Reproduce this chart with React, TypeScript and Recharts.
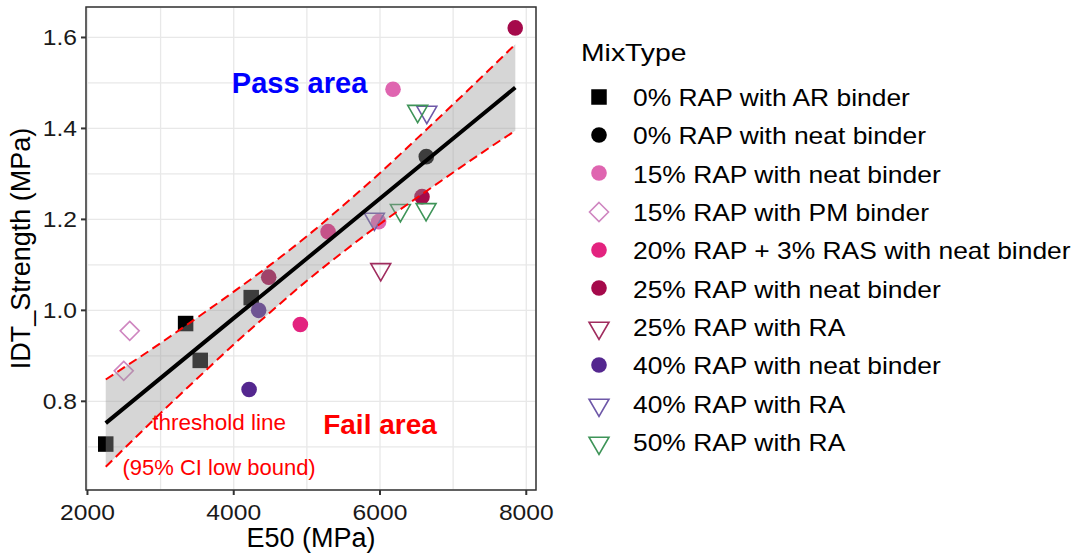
import React from "react";
import {
  ComposedChart,
  XAxis,
  YAxis,
  CartesianGrid,
  Scatter,
  Area,
  Line,
  ReferenceDot,
  ReferenceArea,
} from "recharts";

const FONT = "'Liberation Sans', Arial, Helvetica, sans-serif";

// axes
const xDomain: [number, number] = [1980, 8133];
const yDomain: [number, number] = [0.605, 1.667];
const xTicks = [2000, 3000, 4000, 5000, 6000, 7000, 8000];
const xLabelled = [2000, 4000, 6000, 8000];
const yTicks = [0.7, 0.8, 0.9, 1.0, 1.1, 1.2, 1.3, 1.4, 1.5, 1.6];
const yLabelled = [0.8, 1.0, 1.2, 1.4, 1.6];

// mix types (legend order)
const mixNames = [
  "0% RAP with AR binder",
  "0% RAP with neat binder",
  "15% RAP with neat binder",
  "15% RAP with PM binder",
  "20% RAP + 3% RAS with neat binder",
  "25% RAP with neat binder",
  "25% RAP with RA",
  "40% RAP with neat binder",
  "40% RAP with RA",
  "50% RAP with RA",
];
const mixE50 = [
  [2250, 3342, 3542, 4239],
  [6633],
  [6178, 5981],
  [2578, 2496],
  [4911, 5290],
  [7849, 6574, 4478],
  [6010],
  [4210, 4341],
  [6640, 5923],
  [6515, 6279, 6630],
];
const mixIDT = [
  [0.706, 0.971, 0.89, 1.028],
  [1.338],
  [1.486, 1.195],
  [0.955, 0.867],
  [0.969, 1.173],
  [1.621, 1.25, 1.073],
  [1.09],
  [0.826, 1.0],
  [1.436, 1.201],
  [1.438, 1.22, 1.222],
];
const mixColors = [
  "#000000",
  "#000000",
  "#df65b0",
  "#cf86c0",
  "#e3237f",
  "#a50a4b",
  "#a02c5e",
  "#54278f",
  "#6e58a8",
  "#3e9458",
];
const mixShapes = [
  "square",
  "circle",
  "circle",
  "diamond",
  "circle",
  "circle",
  "triangle",
  "circle",
  "triangle",
  "triangle",
];

// linear fit with 95% CI band
const bandX = [2250, 3000, 3500, 4000, 4500, 5000, 5500, 6000, 6500, 7000, 7500, 7850];
const bandFit = [0.752, 0.851, 0.917, 0.983, 1.048, 1.114, 1.18, 1.246, 1.312, 1.378, 1.444, 1.49];
const bandLow = [0.656, 0.774, 0.85, 0.925, 0.996, 1.065, 1.129, 1.19, 1.247, 1.303, 1.358, 1.395];
const bandHigh = [0.848, 0.928, 0.984, 1.041, 1.1, 1.163, 1.231, 1.302, 1.377, 1.453, 1.53, 1.585];

const bandRows = bandX.map((x, i) => ({
  x,
  fit: bandFit[i],
  lo: bandLow[i],
  hi: bandHigh[i],
  range: [bandLow[i], bandHigh[i]],
}));

const Marker = ({ kind, color, cx, cy }: { kind: string; color: string; cx: number; cy: number }) => {
  if (kind === "square") {
    return <rect x={cx - 7.75} y={cy - 7.75} width={15.5} height={15.5} fill={color} />;
  }
  if (kind === "circle") {
    return <circle cx={cx} cy={cy} r={7.8} fill={color} />;
  }
  if (kind === "diamond") {
    const r = 9.5;
    return (
      <polygon
        points={`${cx},${cy - r} ${cx + r},${cy} ${cx},${cy + r} ${cx - r},${cy}`}
        fill="none"
        stroke={color}
        strokeWidth={1.6}
      />
    );
  }
  // triangle pointing down, circumcentre on the point (like R pch 6)
  const r = 11.5;
  const hw = r * 0.866;
  return (
    <polygon
      points={`${cx - hw},${cy - r / 2} ${cx + hw},${cy - r / 2} ${cx},${cy + r}`}
      fill="none"
      stroke={color}
      strokeWidth={1.6}
    />
  );
};

const isIn = (list: number[], v: number) => list.some((t) => Math.abs(t - v) < 1e-9);

const XTick = (props: any) => {
  const { x, y, payload } = props;
  if (!isIn(xLabelled, payload.value)) return <g />;
  return (
    <g>
      <line x1={x} x2={x} y1={y} y2={y + 5} stroke="#333" strokeWidth={2} />
      <text
        transform={`translate(${x},${y + 30}) scale(1.12,1)`}
        textAnchor="middle"
        fontSize={22}
        fontFamily={FONT}
        fill="#1a1a1a"
      >
        {payload.value}
      </text>
    </g>
  );
};

const YTick = (props: any) => {
  const { x, y, payload } = props;
  if (!isIn(yLabelled, payload.value)) return <g />;
  return (
    <g>
      <line x1={x - 5} x2={x} y1={y} y2={y} stroke="#333" strokeWidth={2} />
      <text
        transform={`translate(${x - 9},${y + 8}) scale(1.12,1)`}
        textAnchor="end"
        fontSize={22}
        fontFamily={FONT}
        fill="#1a1a1a"
      >
        {Number(payload.value).toFixed(1)}
      </text>
    </g>
  );
};

const Legend = () => (
  <div style={{ position: "absolute", left: 580, top: 0, fontFamily: FONT, color: "#000" }}>
    <div
      style={{
        position: "absolute",
        top: 40.5,
        left: 1,
        fontSize: 24,
        lineHeight: "24px",
        whiteSpace: "nowrap",
        transform: "scaleX(1.18)",
        transformOrigin: "left",
      }}
    >
      MixType
    </div>
    <div style={{ position: "absolute", top: 77.5, left: 0 }}>
      {mixNames.map((name, i) => (
        <div key={name} style={{ display: "flex", alignItems: "center", height: 38.3 }}>
          <svg width={38} height={38} style={{ display: "block", flex: "0 0 auto" }}>
            <Marker
              kind={mixShapes[i]}
              color={mixColors[i]}
              cx={19}
              cy={mixShapes[i] === "triangle" ? 21 : 19}
            />
          </svg>
          <span
            style={{
              marginLeft: 15,
              marginTop: 3,
              fontSize: 24,
              lineHeight: "24px",
              whiteSpace: "nowrap",
              display: "inline-block",
              transform: "scaleX(1.1)",
              transformOrigin: "left",
            }}
          >
            {name}
          </span>
        </div>
      ))}
    </div>
  </div>
);

export default function App() {
  return (
    <div
      style={{
        position: "absolute",
        left: 0,
        top: 0,
        width: 1086,
        height: 558,
        background: "#fff",
        overflow: "hidden",
        fontFamily: FONT,
      }}
    >
      <ComposedChart width={560} height={558} margin={{ top: 7, right: 24, bottom: 0, left: 0 }}>
        <CartesianGrid stroke="#e8e8e8" strokeWidth={1.3} />
        <XAxis
          type="number"
          dataKey="x"
          domain={xDomain}
          ticks={xTicks}
          allowDataOverflow
          height={68}
          axisLine={false}
          tickLine={false}
          tickSize={0}
          tickMargin={0}
          tick={<XTick />}
          interval={0}
          label={{
            value: "E50 (MPa)",
            position: "insideBottom",
            offset: 11,
            fontSize: 27,
            fill: "#000",
            fontFamily: FONT,
          }}
        />
        <YAxis
          type="number"
          domain={yDomain}
          ticks={yTicks}
          allowDataOverflow
          width={86}
          axisLine={false}
          tickLine={false}
          tickSize={0}
          tickMargin={0}
          tick={<YTick />}
          interval={0}
          label={{
            value: "IDT_Strength (MPa)",
            angle: -90,
            position: "insideLeft",
            offset: 20,
            fontSize: 27,
            fill: "#000",
            fontFamily: FONT,
            style: { textAnchor: "middle" },
          }}
        />
        {mixNames.map((name, i) => (
          <Scatter
            key={name}
            name={name}
            data={mixE50[i].map((x, j) => ({ x, y: mixIDT[i][j] }))}
            dataKey="y"
            isAnimationActive={false}
            zIndex={300}
            shape={(p: any) => <Marker kind={mixShapes[i]} color={mixColors[i]} cx={p.cx} cy={p.cy} />}
          />
        ))}
        <Area
          data={bandRows}
          dataKey="range"
          type="monotone"
          fill="#999999"
          fillOpacity={0.4}
          stroke="none"
          isAnimationActive={false}
          zIndex={500}
        />
        <Line
          data={bandRows}
          dataKey="fit"
          type="linear"
          stroke="#000"
          strokeWidth={4}
          dot={false}
          isAnimationActive={false}
          zIndex={600}
        />
        <Line
          data={bandRows}
          dataKey="lo"
          type="monotone"
          stroke="#ff0000"
          strokeWidth={2}
          strokeDasharray="9 5"
          dot={false}
          isAnimationActive={false}
          zIndex={600}
        />
        <Line
          data={bandRows}
          dataKey="hi"
          type="monotone"
          stroke="#ff0000"
          strokeWidth={2}
          strokeDasharray="9 5"
          dot={false}
          isAnimationActive={false}
          zIndex={600}
        />
        <ReferenceDot
          x={4900}
          y={1.5}
          r={0}
          fill="none"
          stroke="none"
          label={{ value: "Pass area", position: "center", fill: "#0000ff", fontSize: 29, fontWeight: "bold", fontFamily: FONT }}
        />
        <ReferenceDot
          x={6000}
          y={0.75}
          r={0}
          fill="none"
          stroke="none"
          label={{ value: "Fail area", position: "center", fill: "#ff0000", fontSize: 28, fontWeight: "bold", fontFamily: FONT }}
        />
        <ReferenceDot
          x={3800}
          y={0.755}
          r={0}
          fill="none"
          stroke="none"
          label={{ value: "threshold line", position: "center", fill: "#ff0000", fontSize: 22.5, fontFamily: FONT }}
        />
        <ReferenceDot
          x={3800}
          y={0.655}
          r={0}
          fill="none"
          stroke="none"
          label={{ value: "(95% CI low bound)", position: "center", fill: "#ff0000", fontSize: 22, fontFamily: FONT }}
        />
        <ReferenceArea
          x1={xDomain[0]}
          x2={xDomain[1]}
          y1={yDomain[0]}
          y2={yDomain[1]}
          fill="none"
          fillOpacity={0}
          stroke="#333"
          strokeWidth={1.5}
          zIndex={900}
        />
      </ComposedChart>
      <Legend />
    </div>
  );
}
